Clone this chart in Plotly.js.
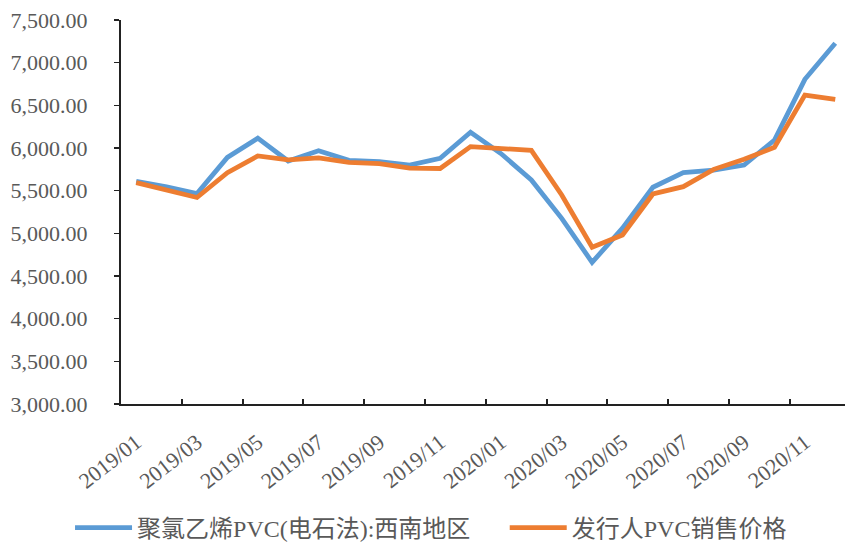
<!DOCTYPE html>
<html>
<head>
<meta charset="utf-8">
<script src="https://cdn.plot.ly/plotly-3.0.1.min.js"></script>
<style>html,body{margin:0;padding:0;background:#fff;}#chart{width:845px;height:544px;}</style>
</head>
<body>
<div id="chart"></div>
<script>
const months = ["2019/01","2019/02","2019/03","2019/04","2019/05","2019/06","2019/07","2019/08","2019/09","2019/10","2019/11","2019/12",
                "2020/01","2020/02","2020/03","2020/04","2020/05","2020/06","2020/07","2020/08","2020/09","2020/10","2020/11","2020/12"];
const seriesNames = ["聚氯乙烯PVC(电石法):西南地区", "发行人PVC销售价格"];
const pvcSouthwest = [5610, 5545, 5465, 5890, 6115, 5848, 5968, 5856, 5840, 5800, 5880, 6185,
                      5935, 5625, 5176, 4660, 5060, 5540, 5711, 5742, 5800, 6094, 6805, 7227];
const issuerPrice  = [5594, 5508, 5420, 5711, 5907, 5862, 5885, 5832, 5818, 5765, 5760, 6016,
                      5988, 5972, 5449, 4836, 4981, 5461, 5547, 5750, 5867, 6008, 6621, 6571];
const tickLabels = ["2019/01","2019/03","2019/05","2019/07","2019/09","2019/11",
                    "2020/01","2020/03","2020/05","2020/07","2020/09","2020/11"];

const idx = months.map((m, i) => i);
const tickMarkPos = tickLabels.map(t => months.indexOf(t) - 0.5);
const xRange = [-0.5, 23.32];

const serif = "'Liberation Serif', 'Times New Roman', 'Noto Sans CJK SC', serif";
const txt = '#595959';

const traces = [
  {x: months, y: pvcSouthwest, name: seriesNames[0], type: 'scatter', mode: 'lines',
   line: {color: '#5B9BD5', width: 4.8}, xaxis: 'x', yaxis: 'y', hoverinfo: 'skip', legend: 'legend'},
  {x: idx, y: issuerPrice, name: seriesNames[1], type: 'scatter', mode: 'lines',
   line: {color: '#ED7D31', width: 4.8}, xaxis: 'x2', yaxis: 'y', hoverinfo: 'skip', legend: 'legend2'}
];

const legendBase = {orientation: 'h', y: -0.323, yanchor: 'middle', xanchor: 'left',
                    font: {family: serif, size: 24, color: txt}, itemwidth: 57,
                    bgcolor: 'rgba(0,0,0,0)'};

const layout = {
  width: 845, height: 544,
  margin: {l: 121, r: 0, t: 20, b: 140, autoexpand: false},
  paper_bgcolor: '#fff', plot_bgcolor: '#fff',
  font: {family: serif, color: txt, size: 20},
  showlegend: true,
  legend: Object.assign({}, legendBase, {x: -0.0704}),
  legend2: Object.assign({}, legendBase, {x: 0.530}),
  xaxis: {type: 'category', range: xRange, tickmode: 'array', tickvals: tickLabels, ticktext: tickLabels,
          tickangle: -38, ticks: '', showgrid: false, zeroline: false, automargin: false,
          showline: true, linecolor: '#222', linewidth: 2, ticklabelstandoff: 15,
          tickfont: {family: serif, size: 22, color: txt}, fixedrange: true},
  xaxis2: {type: 'linear', overlaying: 'x', anchor: 'y', side: 'bottom', range: xRange,
           tickmode: 'array', tickvals: tickMarkPos, ticks: 'inside', ticklen: 5, tickwidth: 2,
           tickcolor: '#222', showticklabels: false, showgrid: false, zeroline: false, showline: false},
  yaxis: {range: [3000, 7500], tickmode: 'linear', tick0: 3000, dtick: 500, tickformat: ',.2f',
          ticks: 'outside', ticklen: 5, tickwidth: 1.5, tickcolor: '#222', automargin: false,
          showline: true, linecolor: '#222', linewidth: 2, showgrid: false, zeroline: false,
          ticklabelstandoff: 22, tickfont: {family: serif, size: 22, color: txt}}
};

Plotly.newPlot('chart', traces, layout, {displayModeBar: false, staticPlot: true});
</script>
</body>
</html>
